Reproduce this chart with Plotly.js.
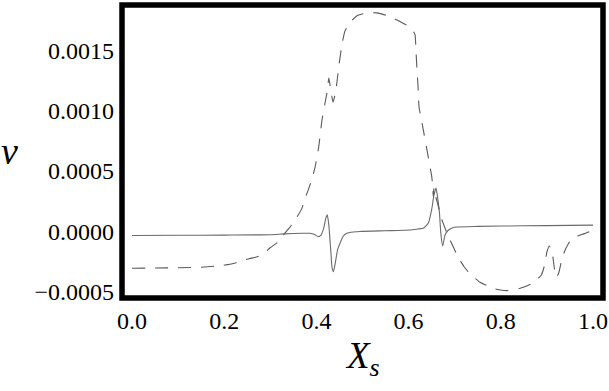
<!DOCTYPE html>
<html>
<head>
<meta charset="utf-8">
<script src="https://cdn.plot.ly/plotly-3.0.1.min.js"></script>
<style>
html,body{margin:0;padding:0;background:#fff;}
#chart{width:609px;height:391px;}
#chart .xtick text, #chart .ytick text{font-family:'Liberation Serif',serif !important;font-size:24px !important;}
</style>
</head>
<body>
<div id="chart"></div>
<script>
// Solid curve
const solidX = [0.0, 0.1, 0.2, 0.3, 0.33, 0.37, 0.386, 0.396, 0.404, 0.41, 0.416, 0.4205, 0.4236, 0.427, 0.431, 0.434, 0.437, 0.441, 0.446, 0.451, 0.458, 0.466, 0.48, 0.495, 0.55, 0.603, 0.62, 0.632, 0.643, 0.65, 0.655, 0.6595, 0.663, 0.667, 0.67, 0.674, 0.679, 0.686, 0.696, 0.704, 0.75, 0.85, 0.95, 1.0];
const solidV = [-0.000033, -0.000032, -0.00003, -0.000027, -0.00002, -0.000015, -0.000015, -0.000025, -0.000043, -0.00003, 0.00003, 0.00011, 0.000137, 0.00005, -0.00015, -0.0003, -0.000333, -0.00026, -0.00015, -0.0001, -0.00004, -0.000015, -0.000005, 0.0, 0.000006, 0.000012, 0.00002, 0.000026, 0.00007, 0.00018, 0.0003, 0.00036, 0.00028, 0.00015, -0.00002, -0.00012, -0.00003, 0.00001, 0.00003, 0.000037, 0.000042, 0.000047, 0.00005, 0.000052];
// Dashed curve
const dashX = [0.0, 0.05, 0.1, 0.15, 0.191, 0.22, 0.241, 0.262, 0.282, 0.299, 0.317, 0.332, 0.343, 0.358, 0.369, 0.375, 0.382, 0.39, 0.397, 0.405, 0.412, 0.418, 0.423, 0.427, 0.431, 0.436, 0.441, 0.445, 0.449, 0.456, 0.462, 0.475, 0.49, 0.51, 0.531, 0.551, 0.57, 0.59, 0.603, 0.61, 0.614, 0.616, 0.618, 0.6205, 0.6226, 0.627, 0.631, 0.642, 0.65, 0.652, 0.6535, 0.655, 0.658, 0.663, 0.672, 0.686, 0.696, 0.707, 0.72, 0.733, 0.755, 0.787, 0.813, 0.842, 0.863, 0.878, 0.888, 0.895, 0.9, 0.905, 0.911, 0.916, 0.921, 0.926, 0.933, 0.94, 0.95, 0.965, 0.98, 1.0];
const dashV = [-0.000305, -0.000303, -0.0003, -0.000296, -0.000284, -0.000265, -0.000238, -0.000219, -0.000195, -0.000137, -0.000087, -0.000012, 0.000037, 0.00012, 0.000195, 0.00027, 0.00034, 0.00043, 0.00053, 0.0007, 0.00092, 0.00105, 0.00115, 0.00127, 0.00118, 0.00107, 0.00114, 0.00125, 0.00138, 0.00156, 0.00166, 0.00174, 0.00179, 0.00181, 0.00181, 0.00179, 0.00176, 0.00172, 0.00169, 0.00166, 0.00163, 0.0015, 0.00135, 0.0012, 0.00103, 0.00094, 0.00086, 0.00063, 0.00046, 0.00039, 0.00029, 0.00036, 0.0003, 0.00023, 0.0001, -0.00004, -0.00012, -0.00021, -0.00029, -0.00035, -0.00042, -0.000475, -0.00049, -0.00047, -0.00044, -0.0004, -0.00036, -0.00028, -0.00017, -0.00012, -0.00016, -0.0003, -0.00038, -0.00034, -0.00022, -0.00015, -0.00008, -0.00004, -0.00002, 0.00001];
const xTicks = [0.0, 0.2, 0.4, 0.6, 0.8, 1.0];
const xTickText = ["0.0", "0.2", "0.4", "0.6", "0.8", "1.0"];
const yTicks = [-0.0005, 0.0, 0.0005, 0.001, 0.0015];
const yTickText = ["\u22120.0005", "0.0000", "0.0005", "0.0010", "0.0015"];

const font = "Liberation Serif";
const traces = [
  {x: solidX, y: solidV, mode: "lines", line: {color: "#6a6a6a", width: 1.1, shape: "spline", smoothing: 0.5}, showlegend: false, hoverinfo: "skip"},
  {x: dashX, y: dashV, mode: "lines", line: {color: "#5a5a5a", width: 1.1, dash: "13px,10px", shape: "spline", smoothing: 0.4}, showlegend: false, hoverinfo: "skip"}
];
const layout = {
  width: 609, height: 391,
  margin: {l: 122, r: 6, t: 5, b: 93},
  paper_bgcolor: "#fff", plot_bgcolor: "#fff",
  font: {family: font, color: "#000", size: 24},
  xaxis: {range: [-0.0217, 1.0217], tickmode: "array", tickvals: xTicks, ticktext: xTickText, showgrid: false, zeroline: false, showline: false, ticks: "", ticklabelstandoff: 6, tickfont: {family: font, size: 24, color: "#000"}},
  yaxis: {range: [-0.000551, 0.001875], tickmode: "array", tickvals: yTicks, ticktext: yTickText, showgrid: false, zeroline: false, showline: false, ticks: "", ticklabelstandoff: 7, tickfont: {family: font, size: 24, color: "#000"}},
  shapes: [{type: "rect", xref: "paper", yref: "paper", x0: 0, x1: 1, y0: 0, y1: 1, line: {color: "#000", width: 5.5}, layer: "above"}],
  annotations: [
    {xref: "paper", yref: "paper", x: 0.5, y: -0.205, xanchor: "center", yanchor: "middle", showarrow: false, text: "<i>X</i><sub><i>s</i></sub>", font: {family: font, size: 37, color: "#000"}},
    {xref: "paper", yref: "paper", x: -0.234, y: 0.503, xanchor: "center", yanchor: "middle", showarrow: false, text: "<i>v</i>", font: {family: font, size: 38, color: "#000"}}
  ]
};
Plotly.newPlot("chart", traces, layout, {staticPlot: true, displayModeBar: false});
</script>
</body>
</html>
